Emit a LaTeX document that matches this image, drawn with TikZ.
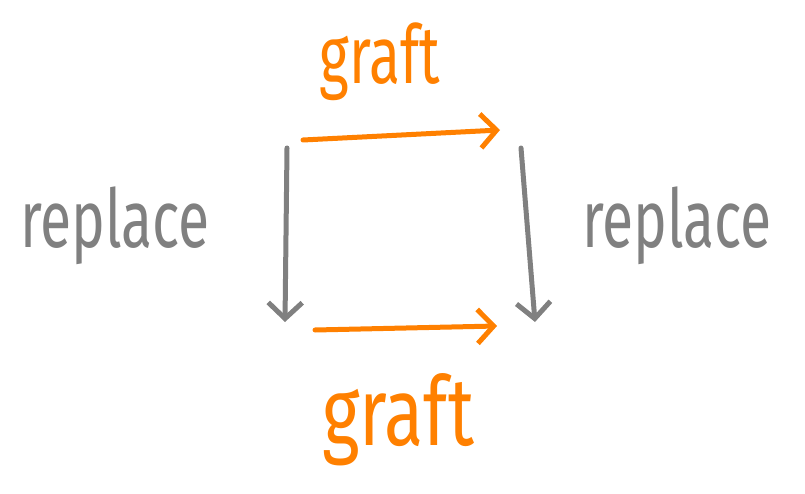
\documentclass[tikz,border=0pt]{standalone}
\usepackage{fontspec}
\setmainfont{Fira Sans}
\usetikzlibrary{arrows.meta}
\definecolor{hgray}{RGB}{128,128,128}
\definecolor{horange}{RGB}{255,128,0}
\tikzset{
  conn/.style={line width=5pt, line cap=round, line join=round,
    -{Straight Barb[length=16pt,width=34pt,line width=5pt]}},
  lbl/.style={font=\fontsize{60}{60}\selectfont\mdseries},
}
\newcommand{\tallt}[1]{\scalebox{0.95}[1.35]{#1}}
\begin{document}
\begin{tikzpicture}[x=1pt,y=-1pt]
\useasboundingbox (0,0) rectangle (805,494);
\coordinate (tl) at (303,140);
\coordinate (tr) at (500,130);
\coordinate (ls) at (287,148);
\coordinate (le) at (285,322);
\coordinate (rs) at (521,148);
\coordinate (re) at (535,322);
\coordinate (bl) at (315,330);
\coordinate (br) at (497,326);
\draw[conn, horange] (tl) -- (tr);
\draw[conn, horange] (bl) -- (br);
\draw[conn, hgray] (ls) -- (le);
\draw[conn, hgray] (rs) -- (re);
\node[lbl, text=horange] (gt) at (380,62) {\tallt{graft}};
\node[lbl, text=horange] (gb) at (398,420) {\scalebox{1.2}[1.6]{graft}};
\node[lbl, text=hgray] (rl) at (115,226) {\tallt{replace}};
\node[lbl, text=hgray] (rr) at (677,226) {\tallt{replace}};
\end{tikzpicture}
\end{document}
